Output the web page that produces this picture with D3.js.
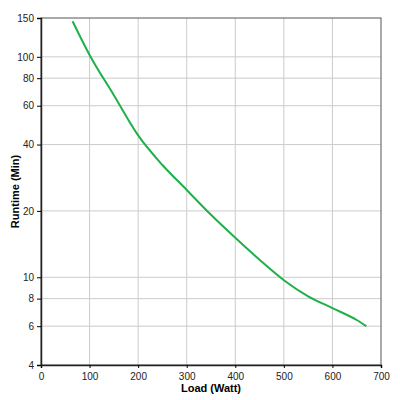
<!DOCTYPE html>
<html><head><meta charset="utf-8">
<script src="https://cdn.jsdelivr.net/npm/d3@7"></script>
<style>body{margin:0;background:#fff}</style>
</head><body><div id="canvas"></div>
<script>
var loads = [65, 100, 150, 200, 250, 300, 350, 400, 450, 500, 550, 600, 650, 670]
var runtimes = [145, 102, 67, 44, 32.3, 24.9, 19.2, 15.1, 12, 9.7, 8.2, 7.25, 6.4, 6.0]
var xTicks = [0, 100, 200, 300, 400, 500, 600, 700]
var yTicks = [4, 6, 8, 10, 20, 40, 60, 80, 100, 150]

var width = 400, height = 400
var padL = 41, padR = 381, padT = 18, padB = 365

var svg = d3.select("#canvas").append("svg")
    .attr("width", width).attr("height", height)
    .style("font-family", "Arial, 'Liberation Sans', sans-serif")

var xScale = d3.scaleLinear().domain([0, 700]).range([padL, padR])
var yScale = d3.scaleLog().domain([4, 150]).range([padB, padT])

// grid
svg.append("g").selectAll("line").data(xTicks.slice(1, -1)).enter().append("line")
    .attr("x1", d => xScale(d)).attr("x2", d => xScale(d))
    .attr("y1", padT).attr("y2", padB)
    .attr("stroke", "#cccccc")
svg.append("g").selectAll("line").data(yTicks.slice(1, -1)).enter().append("line")
    .attr("x1", padL).attr("x2", padR)
    .attr("y1", d => yScale(d)).attr("y2", d => yScale(d))
    .attr("stroke", "#cccccc")

svg.append("rect").attr("x", padL).attr("y", padT)
    .attr("width", padR - padL).attr("height", padB - padT)
    .attr("fill", "none").attr("stroke", "#555")

var xAxis = svg.append("g").attr("transform", `translate(0,${padB})`)
    .call(d3.axisBottom(xScale).tickValues(xTicks).tickSize(3).tickFormat(d3.format("d")))
var yAxis = svg.append("g").attr("transform", `translate(${padL},0)`)
    .call(d3.axisLeft(yScale).tickValues(yTicks).tickSize(4).tickFormat(d3.format("d")))
svg.selectAll(".domain").attr("stroke", "#222").attr("stroke-width", 1.5)
svg.selectAll(".tick text").attr("font-size", 10).attr("fill", "#222").attr("font-family", "Arial, 'Liberation Sans', sans-serif")
xAxis.selectAll(".tick text").attr("dy", "0.9em")

svg.append("path").datum(loads.map((d, i) => [d, runtimes[i]]))
    .attr("d", d3.line().x(d => xScale(d[0])).y(d => yScale(d[1])).curve(d3.curveMonotoneX))
    .attr("fill", "none").attr("stroke", "#1fb04a").attr("stroke-width", 2)

svg.append("text").attr("x", (padL + padR) / 2).attr("y", 392)
    .attr("text-anchor", "middle").attr("font-size", 11).attr("font-weight", "bold")
    .text("Load (Watt)")
svg.append("text").attr("transform", `translate(19,${(padT + padB) / 2}) rotate(-90)`)
    .attr("text-anchor", "middle").attr("font-size", 11).attr("font-weight", "bold")
    .text("Runtime (Min)")
</script></body></html>
